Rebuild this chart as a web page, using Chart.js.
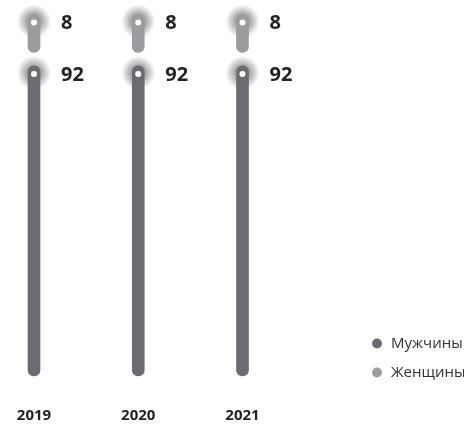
<!DOCTYPE html>
<html>
<head>
<meta charset="utf-8">
<script src="https://cdn.jsdelivr.net/npm/chart.js@4/dist/chart.umd.min.js"></script>
<style>
  html, body { margin: 0; padding: 0; background: #fff; }
  #wrap { width: 474px; height: 425px; }
</style>
</head>
<body>
<div id="wrap"><canvas id="myChart"></canvas></div>
<script>
// data
var years = ['2019', '2020', '2021'];
var men = [92, 92, 92];
var women = [8, 8, 8];

var menColor = '#6c6b71';
var womenColor = '#9c9ba0';
var gap = 4; // space between the two segments, in value units

var womenRange = women.map(function (v, i) {
  return [men[i] + gap, men[i] + gap + v];
});

// glow behind the bar tops, white dot and value label
var markers = {
  id: 'markers',
  beforeDatasetsDraw: function (chart) {
    var ctx = chart.ctx;
    chart.data.datasets.forEach(function (ds, i) {
      chart.getDatasetMeta(i).data.forEach(function (bar) {
        var cx = bar.x, cy = bar.y + 7;
        var g = ctx.createRadialGradient(cx, cy, 5, cx, cy, 17);
        g.addColorStop(0, 'rgba(100,100,105,0.7)');
        g.addColorStop(1, 'rgba(100,100,105,0)');
        ctx.save();
        ctx.fillStyle = g;
        ctx.beginPath();
        ctx.arc(cx, cy, 17, 0, Math.PI * 2);
        ctx.fill();
        ctx.restore();
      });
    });
  },
  afterDatasetsDraw: function (chart) {
    var ctx = chart.ctx;
    chart.data.datasets.forEach(function (ds, i) {
      chart.getDatasetMeta(i).data.forEach(function (bar, j) {
        var cx = bar.x, cy = bar.y + 8;
        ctx.save();
        ctx.fillStyle = '#fff';
        ctx.beginPath();
        ctx.arc(cx, cy, 3, 0, Math.PI * 2);
        ctx.fill();
        ctx.fillStyle = '#222';
        ctx.font = 'bold 20px "Open Sans"';
        ctx.textBaseline = 'middle';
        ctx.textAlign = 'left';
        ctx.fillText(ds.values[j], cx + 27, cy + 1);
        ctx.restore();
      });
    });
  }
};

var ctx = document.getElementById('myChart');
var myChart = new Chart(ctx, {
  type: 'bar',
  data: {
    labels: years,
    datasets: [
      { label: 'Мужчины', data: men, values: men, backgroundColor: menColor },
      { label: 'Женщины', data: womenRange, values: women, backgroundColor: womenColor, minBarLength: 38 }
    ]
  },
  options: {
    responsive: true,
    maintainAspectRatio: false,
    animation: false,
    datasets: {
      bar: { grouped: false, barThickness: 12, borderRadius: 6, borderSkipped: false, borderWidth: 0, clip: false }
    },
    layout: { padding: { top: 12, left: 34, right: 10, bottom: 1 } },
    scales: {
      x: {
        offset: false,
        grid: { display: false, drawTicks: false },
        border: { display: false },
        ticks: { color: '#222', padding: 31, maxRotation: 0, font: { family: 'Open Sans', size: 15, weight: 'bold' } },
        afterFit: function (s) { s.height = 48; s.paddingLeft = 0; s.paddingRight = 0; }
      },
      y: {
        position: 'right',
        min: 0,
        max: 108,
        grid: { display: false, drawTicks: false },
        border: { display: false },
        ticks: { display: false },
        afterFit: function (s) { s.width = 114; }
      }
    },
    plugins: {
      tooltip: { enabled: false },
      legend: {
        position: 'right',
        align: 'start',
        title: { display: true, text: ' ', font: { size: 10 }, padding: { top: 298, bottom: 0 } },
        labels: {
          usePointStyle: true, pointStyle: 'circle', boxWidth: 13, boxHeight: 7, padding: 14,
          color: '#333', font: { family: 'Open Sans', size: 15 }
        }
      }
    }
  },
  plugins: [markers]
});
</script>
</body>
</html>
